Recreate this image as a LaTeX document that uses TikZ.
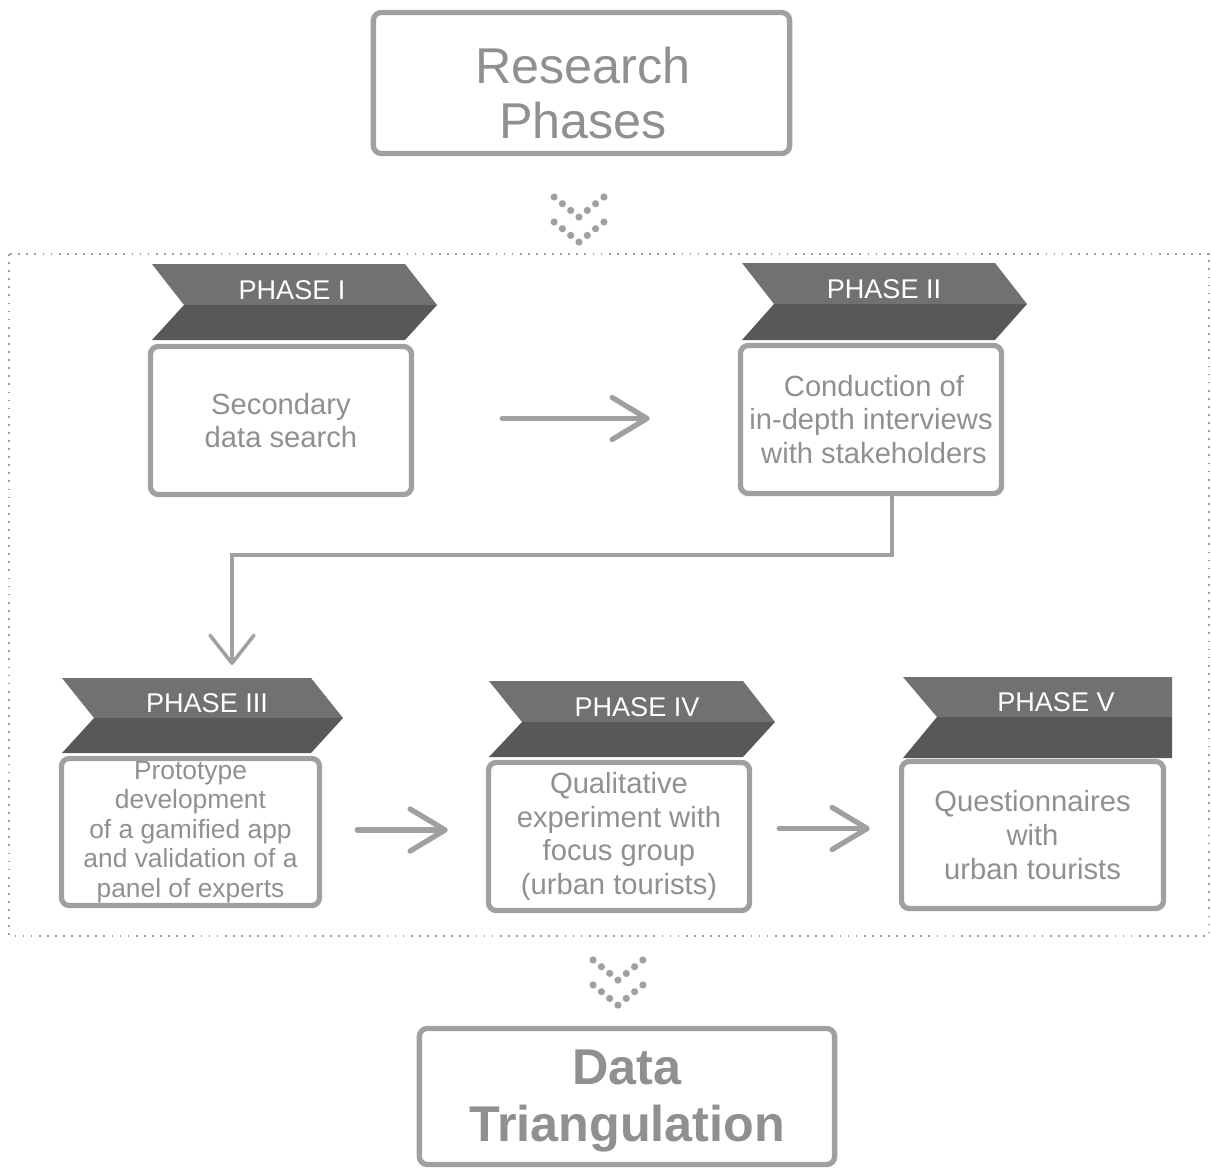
\documentclass[tikz,border=0pt]{standalone}
\usepackage{fontspec}
\setmainfont{Liberation Sans}
\usepackage{xcolor}
\usepackage{tikz}
\usetikzlibrary{arrows.meta, positioning, calc}
\definecolor{linegray}{HTML}{A0A0A0}
\definecolor{textgray}{HTML}{909090}
\definecolor{bandlight}{HTML}{717171}
\definecolor{banddark}{HTML}{585858}

\begin{document}
\begin{tikzpicture}[x=0.01cm, y=-0.01cm,
  box/.style={draw=linegray, line width=1.5pt, rounded corners=0.08cm, fill=white, text=textgray, align=center, inner sep=0pt, minimum width=2.61cm, minimum height=1.48cm, font=\fontsize{8.3}{9.6}\selectfont},
  title/.style={text=textgray, align=center, font=\fontsize{14.3}{15.8}\selectfont},
  tag/.style={text=white, anchor=base, font=\fontsize{7.7}{9}\selectfont},
  flow/.style={draw=linegray, line width=1.5pt, line cap=round, -{Straight Barb[length=0.35cm, width=0.42cm, round]}},
  link/.style={draw=linegray, line width=1pt, -{Straight Barb[length=0.28cm, width=0.44cm, round]}},
  frame/.style={draw=linegray, line width=0.5pt, dash pattern=on 0.5pt off 1.8pt}]
\useasboundingbox (0,0) rectangle (1211,1169);

% Title box
\node[box, minimum width=4.16cm, minimum height=1.41cm] (rbox) at (581.5,83) {};
\node[title] (rtext) at (583,93) {Research\\Phases};

% dotted chevron below the title
\foreach \dy in {0,25} {
  \foreach \k in {-3,...,3}
    \fill[linegray] ({579+\k*8.3},{197+\dy+(3-abs(\k))*6.7}) circle (0.036cm);
}

% dotted frame round the phases
\draw[frame] (9,254) rectangle (1209,936);

% Phase I
\begin{scope}[shift={(152,264)}]
\fill[bandlight] (0,0) -- (253,0) -- (285,41) -- (32,41) -- cycle;
\fill[banddark] (32,41) -- (285,41) -- (253,76) -- (0,76) -- cycle;
\node[tag] (t1) at (140,35) {PHASE I};
\end{scope}
\node[box] (p1) at (281,420.5) {Secondary\\data search};

% Phase II
\begin{scope}[shift={(742,263)}]
\fill[bandlight] (0,0) -- (253,0) -- (285,41) -- (32,41) -- cycle;
\fill[banddark] (32,41) -- (285,41) -- (253,77) -- (0,77) -- cycle;
\node[tag] (t2) at (142,35) {PHASE II};
\end{scope}
\node[box] (p2) at (871,419.5) {\hspace*{0.06cm}Conduction of\\in-depth interviews\\\hspace*{0.06cm}with stakeholders};

% Phase III
\begin{scope}[shift={(62,678)}]
\fill[bandlight] (0,0) -- (249,0) -- (281,40) -- (32,40) -- cycle;
\fill[banddark] (32,40) -- (281,40) -- (249,75) -- (0,75) -- cycle;
\node[tag] (t3) at (145,34) {PHASE III};
\end{scope}
\node[box, minimum width=2.58cm, minimum height=1.47cm, font=\fontsize{7.5}{8.4}\selectfont] (p3) at (190.5,832) {Prototype\\development\\of a gamified app\\and validation of a\\panel of experts};

% Phase IV
\begin{scope}[shift={(489,681)}]
\fill[bandlight] (0,0) -- (254,0) -- (286,41) -- (33,41) -- cycle;
\fill[banddark] (33,41) -- (286,41) -- (254,76) -- (0,76) -- cycle;
\node[tag] (t4) at (148,35) {PHASE IV};
\end{scope}
\node[box] (p4) at (619,836.5) {Qualitative\\experiment with\\focus group\\(urban tourists)};

% Phase V
\begin{scope}[shift={(903,677)}]
\fill[bandlight] (0,0) -- (269,0) -- (269,40) -- (34,40) -- cycle;
\fill[banddark] (34,40) -- (269,40) -- (269,81) -- (0,81) -- cycle;
\node[tag] (t5) at (153,34) {PHASE V};
\end{scope}
\node[box, minimum width=2.62cm, minimum height=1.47cm] (p5) at (1032.5,835) {Questionnaires\\with\\urban tourists};

% arrows between phases
\draw[flow, shorten <=0.88cm, shorten >=0.88cm] ([yshift=0.02cm]p1.east) -- ([yshift=0.02cm]p1.east -| p2.west);
\coordinate (bend) at (232,555);
\coordinate (drop) at (232,665);
\draw[link] ([xshift=0.21cm]p2.south) |- (bend) -- (drop);
\draw[flow, shorten <=0.35cm, shorten >=0.38cm] ([yshift=0.02cm]p3.east) -- ([yshift=0.02cm]p3.east -| p4.west);
\draw[flow, shorten <=0.27cm, shorten >=0.29cm] ([yshift=0.08cm]p4.east) -- ([yshift=0.08cm]p4.east -| p5.west);

% dotted chevron below the frame
\foreach \dy in {0,25} {
  \foreach \k in {-3,...,3}
    \fill[linegray] ({618+\k*8.3},{960+\dy+(3-abs(\k))*6.7}) circle (0.036cm);
}

% Result box
\node[box, minimum width=4.15cm, minimum height=1.36cm] (dbox) at (627,1096.5) {};
\node[text=textgray, align=center, font=\bfseries\fontsize{14.3}{16}\selectfont] (dtext) at (627,1101) {Data\\Triangulation};
\end{tikzpicture}
\end{document}
